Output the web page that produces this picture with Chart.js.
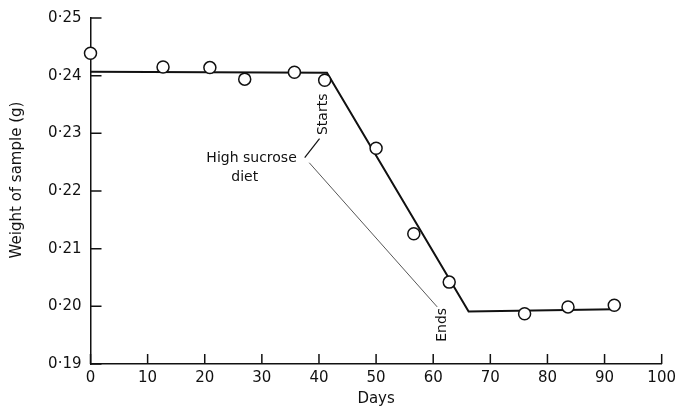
<!DOCTYPE html>
<html lang="en">
<head>
  <meta charset="UTF-8" />
  <title>Weight of sample</title>
  <style>
    * { margin: 0; padding: 0; box-sizing: border-box; }
    body { background: #fff; width: 681px; height: 412px; overflow: hidden; }
    canvas { display: block; }
  </style>
</head>
<body>
  <canvas id="weightChart" width="681" height="412"></canvas>

  <script src="https://cdn.jsdelivr.net/npm/chart.js"></script>
  <script>
    // measured weights (days, grams)
    const sampleDays = [0, 12.7, 20.9, 27.0, 35.7, 41.0, 50.0, 56.6, 62.8, 76.0, 83.6, 91.7];
    const sampleWeights = [0.2439, 0.2415, 0.2414, 0.2394, 0.2406, 0.2392, 0.2274, 0.2126, 0.2042, 0.1987, 0.1999, 0.2002];

    // fitted line: plateau, decline on the diet, plateau
    const fitDays = [0, 41.4, 66.2, 91.7];
    const fitWeights = [0.2407, 0.2405, 0.1991, 0.1995];

    const xTicks = [0, 10, 20, 30, 40, 50, 60, 70, 80, 90, 100];
    const yTicks = [0.19, 0.20, 0.21, 0.22, 0.23, 0.24, 0.25];

    const FONT = "'DejaVu Sans', sans-serif";
    const INK = '#111';

    function toPoints(xs, ys) {
      return xs.map((x, i) => ({ x: x, y: ys[i] }));
    }

    // ticks point into the plot area
    const inwardTicks = {
      id: 'inwardTicks',
      afterDraw(chart) {
        const ctx = chart.ctx;
        const xs = chart.scales.x, ys = chart.scales.y;
        const left = chart.chartArea.left, bottom = chart.chartArea.bottom;
        ctx.save();
        ctx.strokeStyle = INK;
        ctx.lineWidth = 1.5;
        ctx.beginPath();
        xTicks.forEach(v => {
          const px = xs.getPixelForValue(v);
          ctx.moveTo(px, bottom);
          ctx.lineTo(px, bottom - 10);
        });
        yTicks.forEach(v => {
          const py = ys.getPixelForValue(v);
          ctx.moveTo(left, py);
          ctx.lineTo(left + 11, py);
        });
        ctx.stroke();
        ctx.restore();
      }
    };

    // y axis title, sitting a little above the middle of the axis
    const yTitle = {
      id: 'yTitle',
      afterDraw(chart) {
        const ctx = chart.ctx;
        ctx.save();
        ctx.fillStyle = INK;
        ctx.font = '15px ' + FONT;
        ctx.textAlign = 'center';
        ctx.textBaseline = 'middle';
        ctx.translate(17, 180);
        ctx.rotate(-Math.PI / 2);
        ctx.fillText('Weight of sample (g)', 0, 0);
        ctx.restore();
      }
    };

    // "High sucrose diet" note with its leader lines
    const dietNote = {
      id: 'dietNote',
      afterDraw(chart) {
        const ctx = chart.ctx;
        const xs = chart.scales.x, ys = chart.scales.y;
        const P = (x, y) => [xs.getPixelForValue(x), ys.getPixelForValue(y)];
        ctx.save();
        ctx.fillStyle = INK;
        ctx.font = '14px ' + FONT;
        ctx.textAlign = 'center';
        ctx.textBaseline = 'middle';

        let [tx, ty] = P(28.2, 0.2256);
        ctx.fillText('High sucrose', tx, ty);
        [tx, ty] = P(27.0, 0.2223);
        ctx.fillText('diet', tx, ty);

        const vertical = (text, x, y) => {
          const [px, py] = P(x, y);
          ctx.save();
          ctx.translate(px, py);
          ctx.rotate(-Math.PI / 2);
          ctx.fillText(text, 0, 0);
          ctx.restore();
        };
        vertical('Starts', 40.8, 0.2333);
        vertical('Ends', 61.6, 0.1968);

        ctx.strokeStyle = INK;
        ctx.lineWidth = 1.2;
        ctx.beginPath();
        let [ax, ay] = P(37.5, 0.2258);
        let [bx, by] = P(40.1, 0.2291);
        ctx.moveTo(ax, ay);
        ctx.lineTo(bx, by);
        ctx.stroke();

        ctx.strokeStyle = '#444';
        ctx.lineWidth = 0.9;
        ctx.beginPath();
        [ax, ay] = P(38.3, 0.2249);
        [bx, by] = P(60.7, 0.1999);
        ctx.moveTo(ax, ay);
        ctx.lineTo(bx, by);
        ctx.stroke();
        ctx.restore();
      }
    };

    const ctx = document.getElementById('weightChart').getContext('2d');
    const weightChart = new Chart(ctx, {
      type: 'scatter',
      data: {
        datasets: [
          {
            label: 'Fit',
            data: toPoints(fitDays, fitWeights),
            showLine: true,
            borderColor: INK,
            borderWidth: 2,
            pointRadius: 0,
            order: 2
          },
          {
            label: 'Weight',
            data: toPoints(sampleDays, sampleWeights),
            showLine: false,
            clip: false,
            pointRadius: 6,
            pointBackgroundColor: '#fff',
            pointBorderColor: INK,
            pointBorderWidth: 1.5,
            order: 1
          }
        ]
      },
      options: {
        responsive: false,
        animation: false,
        devicePixelRatio: 1,
        layout: { padding: { top: 17, right: 18, left: 0, bottom: 0 } },
        plugins: {
          legend: { display: false },
          tooltip: { enabled: false }
        },
        scales: {
          x: {
            type: 'linear',
            min: 0,
            max: 100,
            afterFit(scale) { scale.height = 48; },
            afterBuildTicks(scale) { scale.ticks = xTicks.map(v => ({ value: v })); },
            grid: { display: false, drawTicks: false },
            border: { display: true, color: INK, width: 1.5 },
            ticks: {
              color: INK,
              padding: 5,
              autoSkip: false,
              maxRotation: 0,
              minRotation: 0,
              font: { family: FONT, size: 15 }
            },
            title: {
              display: true,
              text: 'Days',
              color: INK,
              font: { family: FONT, size: 15 },
              padding: { top: 0, bottom: 4 }
            }
          },
          y: {
            type: 'linear',
            min: 0.19,
            max: 0.25,
            afterFit(scale) { scale.width = 90.5; },
            afterBuildTicks(scale) { scale.ticks = yTicks.map(v => ({ value: v })); },
            grid: { display: false, drawTicks: false },
            border: { display: true, color: INK, width: 1.5 },
            ticks: {
              color: INK,
              padding: 9,
              autoSkip: false,
              font: { family: FONT, size: 15 },
              callback: v => v.toFixed(2).replace('.', '·')
            },
            title: { display: false }
          }
        }
      },
      plugins: [inwardTicks, yTitle, dietNote]
    });
  </script>
</body>
</html>
